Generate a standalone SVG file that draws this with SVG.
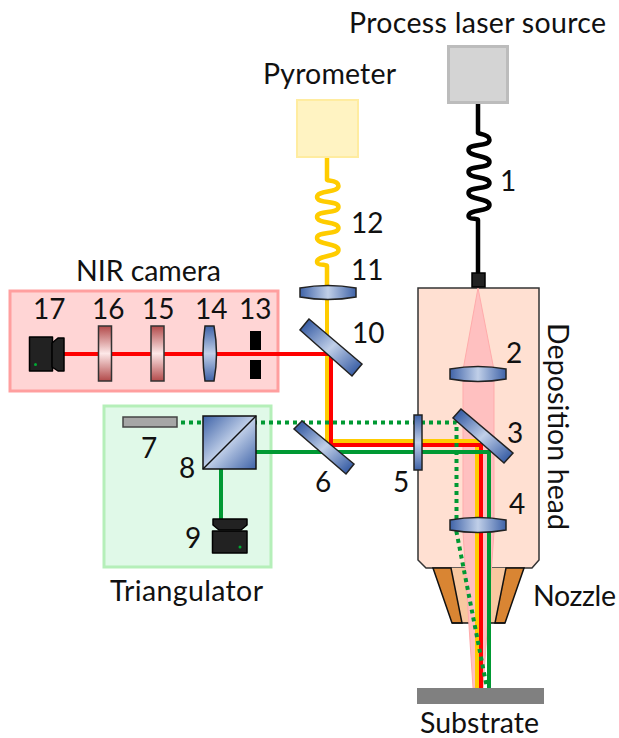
<svg xmlns="http://www.w3.org/2000/svg" width="619" height="738" viewBox="0 0 619 738">
<style>
text{font-family:"Lato","Open Sans","Liberation Sans",sans-serif;font-size:28px;fill:#111}
.w{font-size:28.500px}
.o{stroke:#222;stroke-width:1.5;fill:url(#mirror)}
.lv{stroke:#222;stroke-width:1.5;fill:url(#blueV)}
.lh{stroke:#222;stroke-width:1.5;fill:url(#blue)}
.f{stroke:#333;stroke-width:1.5;fill:url(#red)}
.b{fill:none;stroke-width:4}
.fb{fill:none;stroke-width:4.500}
.cam{fill:#222;stroke:#000;stroke-width:1.5;stroke-linejoin:round}
</style>
<defs>
<linearGradient id="blue" x1="0" y1="0" x2="1" y2="0"><stop offset="0" stop-color="#3f63a8"/><stop offset=".5" stop-color="#c0cfe8"/><stop offset="1" stop-color="#3f63a8"/></linearGradient>
<linearGradient id="blueV" x1="0" y1="0" x2="0" y2="1"><stop offset="0" stop-color="#3f63a8"/><stop offset=".5" stop-color="#c0cfe8"/><stop offset="1" stop-color="#3f63a8"/></linearGradient>
<linearGradient id="mirror" x1=".1" y1=".1" x2=".9" y2=".9"><stop offset="0" stop-color="#3f63a8"/><stop offset=".5" stop-color="#c0cfe8"/><stop offset="1" stop-color="#3f63a8"/></linearGradient>
<linearGradient id="cube" x1="0" y1="0" x2="1" y2="1"><stop offset="0" stop-color="#3f63a8"/><stop offset=".5" stop-color="#c0cfe8"/><stop offset="1" stop-color="#3f63a8"/></linearGradient>
<linearGradient id="red" x1="0" y1="0" x2="0" y2="1"><stop offset="0" stop-color="#b24a4a"/><stop offset=".5" stop-color="#fde8e8"/><stop offset="1" stop-color="#b24a4a"/></linearGradient>
</defs>

<g id="nir-camera-box"><rect x="10" y="291" width="268" height="100" fill="#ffd5d5" stroke="#ff9f9f" stroke-width="3"/></g>
<g id="triangulator-box"><rect x="104" y="406" width="167" height="161" fill="#e0f9e8" stroke="#b5efb9" stroke-width="3"/></g>

<g id="deposition-head">
<path d="M418 288H539V560L532 568H426L418 560Z" fill="#ffe0d2" stroke="#333" stroke-width="1.5"/>
</g>
<g id="nozzle">
<path d="M451 568H506L495 623H462Z" fill="#f8c8a0"/>
<path d="M433 568H451L462 623H452Z" fill="#d98533" stroke="#111" stroke-width="1.5"/>
<path d="M506 568H524L505 623H495Z" fill="#d98533" stroke="#111" stroke-width="1.5"/>
<path d="M452 623H505" stroke="#111" stroke-width="1.5" fill="none"/>
</g>

<g id="connectors">
<path d="M478 288L463 370V532L473 688H483L494 532V370Z" fill="#ffc0c0" stroke="#ffabab" stroke-width="1"/>
<path class="fb" d="M478 104V133C478 134 489.500 134 489.500 140C489.500 147 468.500 143 468.500 150C468.500 157 489.500 155 489.500 162C489.500 169 468.500 165 468.500 172C468.500 179 489.500 176 489.500 183C489.500 190 468.500 186 468.500 193C468.500 200 489.500 198 489.500 205C489.500 212 468.500 209 468.500 216C468.500 220 478 218 478 220V273" stroke="#000"/>
<path class="fb" d="M327 157V180C327 181 338.500 180 338.500 186C338.500 193 317 190 317 197C317 204 338.500 200 338.500 207C338.500 214 317 210 317 217C317 224 338.500 221 338.500 228C338.500 235 317 231 317 238C317 245 338.500 243 338.500 250C338.500 257 317 255 317 262C317 266 327 264 327 266V286" stroke="#ffcc00"/>
<path class="b" d="M327 286V441H477V688" stroke="#ffcc00"/>
<path class="b" d="M64 354H331V445H481V688" stroke="#f00"/>
<path class="b" d="M221 469V519M256 452H489V688" stroke="#009933"/>
<path class="b" d="M181 422.500H456.500V532L487 688" stroke="#009933" stroke-dasharray="4 4"/>
</g>

<g id="process-laser-source"><rect x="448.500" y="46.500" width="59" height="56" fill="#d4d4d4" stroke="#bcbcbc" stroke-width="3"/><text class="w" x="349" y="33" textLength="257">Process laser source</text></g>
<g id="pyrometer"><rect x="297" y="100" width="61" height="57" fill="#fff3c2" stroke="#ffeca0" stroke-width="2"/><text class="w" x="263" y="84" textLength="133">Pyrometer</text></g>
<g id="fiber-coupler"><rect x="472" y="273" width="13" height="14" fill="#222" stroke="#000" stroke-width="1.5"/></g>

<g id="n1"><text x="500" y="191">1</text></g>
<g id="n2"><path class="lh" d="M450 369Q478 364 506 369V379Q478 384 450 379Z"/><text x="506" y="363">2</text></g>
<g id="n3"><path class="o" d="M461 409L453 418L504 463L513 453Z"/><text x="507" y="443">3</text></g>
<g id="n4"><path class="lh" d="M450 520Q478 515 506 520V530Q478 535 450 530Z"/><text x="509" y="514">4</text></g>
<g id="n5"><rect x="414" y="415" width="8" height="55" class="lv"/><text x="393" y="492">5</text></g>
<g id="n6"><path class="o" d="M302 421L294 429L346 474L354 464Z"/><text x="315" y="492">6</text></g>
<g id="n7"><rect x="123" y="417" width="54" height="10" fill="#a6a6a6" stroke="#444" stroke-width="1.500"/><text x="141" y="458">7</text></g>
<g id="n8"><rect x="203" y="416" width="53" height="53" fill="url(#cube)" stroke="#111" stroke-width="1.500"/><path d="M203 469L256 416" stroke="#111" stroke-width="1.500"/><text x="179" y="478">8</text></g>
<g id="n9"><path class="cam" d="M213 519H247V525L241 530H219L213 525Z"/><rect class="cam" x="212.500" y="531" width="34.500" height="22"/><circle cx="240" cy="547" r="1.500" fill="#0a3"/><text x="185" y="548">9</text></g>
<g id="n10"><path class="o" d="M309 319L300 330L352 376L362 364Z"/><text x="352" y="343">10</text></g>
<g id="n11"><path class="lh" d="M300 288Q328 283 356 288V297Q328 302 300 297Z"/><text x="351" y="280">11</text></g>
<g id="n12"><text x="351" y="233">12</text></g>
<g id="n13"><rect x="250" y="331" width="11" height="19" fill="#000"/><rect x="250" y="360" width="11" height="19" fill="#000"/><text x="239" y="319">13</text></g>
<g id="n14"><path class="lv" d="M205 326H214Q219 354 214 381H205Q201 354 205 326Z"/><text x="195" y="319">14</text></g>
<g id="n15"><rect class="f" x="151" y="326" width="13" height="55"/><text x="142" y="319">15</text></g>
<g id="n16"><rect class="f" x="98.500" y="326" width="13" height="55"/><text x="92" y="319">16</text></g>
<g id="n17"><rect class="cam" x="29.500" y="337" width="23" height="34"/><path class="cam" d="M52 343L58 338H64V371H58L52 367Z"/><circle cx="35.500" cy="364.500" r="1.500" fill="#0a3"/><text x="33" y="319">17</text></g>

<g id="substrate"><rect x="417" y="688" width="127" height="16" fill="#808080"/><text class="w" x="420" y="733" textLength="119">Substrate</text></g>
<text class="w" x="76" y="281" textLength="145">NIR camera</text>
<text class="w" x="110" y="601" textLength="153">Triangulator</text>
<text class="w" x="533" y="606" textLength="83">Nozzle</text>
<text class="w" transform="translate(548 323) rotate(90)" textLength="207">Deposition head</text>
</svg>
